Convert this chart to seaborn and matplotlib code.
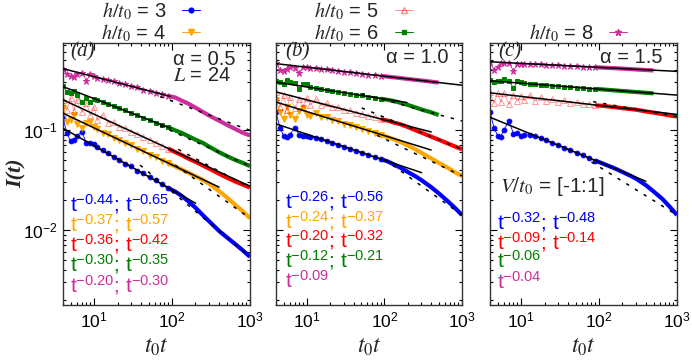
import matplotlib
matplotlib.use("Agg")
import matplotlib.pyplot as plt
from matplotlib.lines import Line2D
from matplotlib.ticker import LogLocator, NullFormatter
import seaborn as sns

sns.set_theme(style="ticks")
plt.rcParams["font.family"] = ["Liberation Sans", "DejaVu Sans"]
plt.rcParams["mathtext.fontset"] = "stix"

# time grid t0*t shared by all curves
T = [4, 4.5, 5, 5.5, 6, 7, 8, 9, 10, 11, 13, 15, 18, 21, 25, 30, 36, 43, 52, 62, 75, 90,
     110, 130, 160, 200, 250, 300, 400, 500, 650, 800, 1000]

# panel (a), alpha = 0.5
blue_a = [0.131, 0.093, 0.077, 0.079, 0.088, 0.095, 0.074, 0.074, 0.072,
          0.068, 0.0625, 0.0585, 0.054, 0.0505, 0.0462, 0.0432, 0.0393, 0.0368, 0.0335, 0.0313, 0.0285, 0.0262,
          0.0242, 0.0222, 0.0195, 0.0167, 0.0140, 0.0122, 0.0098, 0.0085, 0.0072, 0.0063, 0.0054]
orange_a = [0.165, 0.121, 0.125, 0.14, 0.115, 0.105, 0.118, 0.12, 0.108,
            0.102, 0.094, 0.091, 0.0835, 0.080, 0.0742, 0.0700, 0.0648, 0.0613, 0.0566, 0.0536, 0.0494, 0.0466,
            0.0432, 0.0406, 0.0375, 0.0345, 0.0315, 0.0290, 0.0245, 0.0213, 0.0178, 0.0155, 0.0131]
red_a = [0.20, 0.16, 0.21, 0.155, 0.20, 0.15, 0.185, 0.14, 0.17,
         0.125, 0.142, 0.118, 0.120, 0.106, 0.104, 0.0955, 0.0915, 0.0845, 0.0798, 0.0744, 0.0698, 0.0650,
         0.0600, 0.0565, 0.0520, 0.0480, 0.0440, 0.0410, 0.0365, 0.0335, 0.0305, 0.0285, 0.0265]
green_a = [0.275, 0.24, 0.235, 0.245, 0.225, 0.19, 0.21, 0.19, 0.205,
           0.198, 0.192, 0.180, 0.174, 0.164, 0.157, 0.147, 0.141, 0.132, 0.127, 0.118, 0.113, 0.106,
           0.099, 0.094, 0.087, 0.080, 0.074, 0.068, 0.060, 0.055, 0.050, 0.047, 0.0435]
magenta_a = [0.405, 0.36, 0.345, 0.34, 0.36, 0.375, 0.31, 0.36, 0.35,
             0.333, 0.326, 0.313, 0.305, 0.292, 0.286, 0.272, 0.266, 0.253, 0.246, 0.236, 0.229, 0.219,
             0.211, 0.198, 0.184, 0.167, 0.151, 0.139, 0.124, 0.113, 0.102, 0.094, 0.088]

# panel (b), alpha = 1.0
blue_b = [0.152, 0.105, 0.088, 0.086, 0.09, 0.105, 0.089, 0.088, 0.087,
          0.085, 0.0835, 0.0805, 0.0775, 0.0742, 0.0712, 0.0680, 0.0648, 0.0620, 0.0590, 0.0562, 0.0535, 0.0510,
          0.0485, 0.0455, 0.042, 0.038, 0.0345, 0.0315, 0.0268, 0.0233, 0.0195, 0.0168, 0.0141]
orange_b = [0.20, 0.15, 0.128, 0.17, 0.14, 0.13, 0.155, 0.165, 0.14,
            0.138, 0.147, 0.134, 0.134, 0.125, 0.123, 0.116, 0.112, 0.107, 0.1025, 0.098, 0.093, 0.089,
            0.085, 0.081, 0.076, 0.070, 0.064, 0.059, 0.052, 0.047, 0.042, 0.038, 0.0347]
red_b = [0.24, 0.17, 0.225, 0.16, 0.215, 0.165, 0.205, 0.17, 0.21,
         0.178, 0.202, 0.177, 0.186, 0.168, 0.170, 0.157, 0.157, 0.147, 0.145, 0.138, 0.134, 0.128,
         0.124, 0.119, 0.114, 0.107, 0.0995, 0.094, 0.0857, 0.080, 0.0734, 0.0687, 0.064]
green_b = [0.31, 0.30, 0.29, 0.315, 0.30, 0.295, 0.255, 0.29, 0.285,
           0.268, 0.262, 0.254, 0.252, 0.245, 0.242, 0.235, 0.231, 0.225, 0.221, 0.215, 0.210, 0.205,
           0.200, 0.195, 0.187, 0.178, 0.168, 0.160, 0.150, 0.141]
magenta_b = [0.47, 0.40, 0.385, 0.41, 0.43, 0.42, 0.37, 0.43, 0.425,
             0.418, 0.415, 0.406, 0.403, 0.395, 0.391, 0.383, 0.379, 0.371, 0.366, 0.358, 0.354, 0.347,
             0.341, 0.336, 0.330, 0.323, 0.317, 0.312, 0.304, 0.297]

# panel (c), alpha = 1.5
blue_c = [0.152, 0.105, 0.088, 0.086, 0.10, 0.122, 0.092, 0.093, 0.087,
          0.090, 0.089, 0.0865, 0.0822, 0.0785, 0.0745, 0.0703, 0.0664, 0.0625, 0.0590, 0.0556, 0.0525, 0.0494,
          0.0464, 0.0440, 0.0412, 0.0380, 0.0350, 0.0325, 0.0280, 0.0243, 0.0204, 0.0172, 0.0141]
red_c = [0.24, 0.185, 0.235, 0.19, 0.235, 0.18, 0.225, 0.195, 0.22,
         0.198, 0.222, 0.196, 0.213, 0.196, 0.204, 0.192, 0.198, 0.187, 0.189, 0.181, 0.182, 0.176,
         0.1744, 0.1718, 0.1687, 0.1652, 0.1619, 0.1593, 0.153, 0.149, 0.144, 0.140, 0.136]
green_c = [0.315, 0.30, 0.31, 0.305, 0.32, 0.31, 0.262, 0.305, 0.30,
           0.296, 0.287, 0.289, 0.282, 0.283, 0.276, 0.276, 0.270, 0.270, 0.264, 0.263, 0.259, 0.257,
           0.2542, 0.2516, 0.2484, 0.2451, 0.2419, 0.2392, 0.2352, 0.2320]
magenta_c = [0.48, 0.40, 0.425, 0.465, 0.47, 0.47, 0.39, 0.46, 0.455,
             0.458, 0.455, 0.452, 0.451, 0.447, 0.446, 0.441, 0.440, 0.436, 0.434, 0.429, 0.427, 0.423,
             0.420, 0.417, 0.414, 0.410, 0.406, 0.402, 0.397, 0.393]

# power-law fits: (t_start, t_end, I_start, I_end)
solid_a = [(4, 96, 0.41, 0.216), (4, 96, 0.271, 0.104), (4, 1000, 0.20, 0.0274),
           (4, 401, 0.147, 0.0268), (4, 201, 0.104, 0.0185)]
dashed_a = [(71, 1000, 0.215, 0.099), (70, 1000, 0.11, 0.0435), (120, 1000, 0.064, 0.0265),
            (110, 1000, 0.0445, 0.0131), (39, 1000, 0.0445, 0.0054)]
solid_b = [(4, 1000, 0.46, 0.28), (4, 195, 0.30, 0.188), (4, 401, 0.24, 0.0955),
           (4, 400, 0.19, 0.063), (4, 302, 0.115, 0.0374)]
dashed_b = [(51, 1000, 0.2297, 0.123), (51, 1000, 0.166, 0.064), (80, 1000, 0.0885, 0.0347),
            (100, 1000, 0.0509, 0.0141)]
solid_c = [(4, 1000, 0.48, 0.385), (4, 1000, 0.31, 0.223), (4, 1000, 0.235, 0.143),
           (4, 398, 0.134, 0.0307)]
dashed_c = [(84, 1000, 0.192, 0.136), (80, 1000, 0.0478, 0.0141)]

# fitted exponents written in each panel
expo_a = [("-0.44", "-0.65", 3), ("-0.37", "-0.57", 4), ("-0.36", "-0.42", 5),
          ("-0.30", "-0.35", 6), ("-0.20", "-0.30", 8)]
expo_b = [("-0.26", "-0.56", 3), ("-0.24", "-0.37", 4), ("-0.20", "-0.32", 5),
          ("-0.12", "-0.21", 6), ("-0.09", None, 8)]
expo_c = [("-0.32", "-0.48", 3), ("-0.09", "-0.14", 5), ("-0.06", None, 6), ("-0.04", None, 8)]

COLORS = {3: "#0000ff", 4: "#ffa500", 5: "#ff0000", 6: "#008000", 8: "#cc2f9c"}
MARKERS = {3: ("o", 3.4), 4: ("v", 4.0), 5: ("^", 3.8), 6: ("s", 3.2), 8: ("*", 4.6)}

fig = plt.figure(figsize=(6.92, 3.6), dpi=100)
axes = [fig.add_axes([63 / 692, 0.1528, 187 / 692, 0.7278]),
        fig.add_axes([276 / 692, 0.1528, 186 / 692, 0.7278]),
        fig.add_axes([490 / 692, 0.1528, 187 / 692, 0.7278])]


def draw_series(ax, y, h):
    t = T[:len(y)]
    k = T.index(110)
    col = COLORS[h]
    m, ms = MARKERS[h]
    light = h == 5
    sns.lineplot(x=t[:k], y=y[:k], ax=ax, color=col, lw=0.6, estimator=None, sort=False,
                 marker=m, markersize=ms, markeredgecolor=col, markeredgewidth=0.7,
                 markerfacecolor="none" if light else col, alpha=0.4 if light else 1.0)
    sns.lineplot(x=t[k - 1:], y=y[k - 1:], ax=ax, color=col, lw=3.0, estimator=None, sort=False,
                 solid_capstyle="butt")


def draw_fits(ax, fits, style):
    for t0, t1, y0, y1 in fits:
        if style == "solid":
            ax.plot([t0, t1], [y0, y1], color="black", lw=1.1, zorder=5)
        else:
            ax.plot([t0, t1], [y0, y1], color="black", lw=1.1, ls=(0, (2.2, 4.5)), zorder=5)


panels = [
    ([(blue_a, 3), (orange_a, 4), (red_a, 5), (green_a, 6), (magenta_a, 8)], solid_a, dashed_a, expo_a),
    ([(blue_b, 3), (orange_b, 4), (red_b, 5), (green_b, 6), (magenta_b, 8)], solid_b, dashed_b, expo_b),
    ([(blue_c, 3), (red_c, 5), (green_c, 6), (magenta_c, 8)], solid_c, dashed_c, expo_c),
]
row_y = [[0.385, 0.309, 0.233, 0.156, 0.076],
         [0.395, 0.319, 0.248, 0.172, 0.092],
         [0.317, 0.240, 0.168, 0.088]]
row_x = [0.037, 0.048, 0.037]

for i, (ax, (series, solid, dashed, expo)) in enumerate(zip(axes, panels)):
    ax.set(xscale="log", yscale="log")
    for y, h in series:
        draw_series(ax, y, h)
    draw_fits(ax, solid, "solid")
    draw_fits(ax, dashed, "dashed")
    ax.set_xlim(4, 1000)
    ax.set_ylim(0.00178, 0.74)
    ax.xaxis.set_major_locator(LogLocator(base=10))
    ax.xaxis.set_minor_locator(LogLocator(base=10, subs=range(2, 10)))
    ax.xaxis.set_minor_formatter(NullFormatter())
    ax.yaxis.set_minor_locator(LogLocator(base=10, subs=range(2, 10)))
    ax.yaxis.set_minor_formatter(NullFormatter())
    ax.tick_params(which="both", direction="in", top=True, right=True, width=0.8,
                   colors="black", labelsize=12.5)
    ax.tick_params(which="major", length=5, pad=4)
    ax.tick_params(which="minor", length=2.5)
    for sp in ax.spines.values():
        sp.set_linewidth(1.0)
        sp.set_color("#333333")
    ax.set_xlabel("")
    ax.set_ylabel("")
    if i > 0:
        ax.tick_params(axis="y", labelleft=False)
    ax.text(0.5, -0.16, r"$t_0t$", transform=ax.transAxes, ha="center", va="center", fontsize=17)
    ax.text(row_x[i] + (0.006 if i == 2 else 0), 0.965, "(" + "abc"[i] + ")", transform=ax.transAxes,
            ha="left", va="center", fontsize=15, family="Liberation Serif", style="italic")
    for (e1, e2, h), yy in zip(expo, row_y[i]):
        s = r"$\mathregular{t^{" + e1 + "}}$"
        if e2 is not None:
            s += r"; $\mathregular{t^{" + e2 + "}}$"
        ax.text(row_x[i], yy, s, transform=ax.transAxes, ha="left", va="center",
                fontsize=15, color=COLORS[h])

axes[0].text(0.925, 0.937, "α = 0.5", transform=axes[0].transAxes, ha="right", va="center", fontsize=14.5)
axes[0].text(0.9, 0.876, r"$L$ = 24", transform=axes[0].transAxes, ha="right", va="center", fontsize=14.5)
axes[1].text(0.925, 0.945, "α = 1.0", transform=axes[1].transAxes, ha="right", va="center", fontsize=14.5)
axes[2].text(0.92, 0.945, "α = 1.5", transform=axes[2].transAxes, ha="right", va="center", fontsize=14.5)
axes[2].text(0.053, 0.454, r"$V/t_0$ = [-1:1]", transform=axes[2].transAxes, ha="left", va="center",
             fontsize=15)

fig.text(0.024, 0.52, "I(t)", rotation=90, ha="center", va="center", fontsize=16,
         family="Liberation Serif", style="italic", weight="bold")


def handle(h):
    m, ms = MARKERS[h]
    light = h == 5
    return Line2D([], [], color=COLORS[h], lw=0.7, marker=m, markersize=ms,
                  markerfacecolor="none" if light else COLORS[h], alpha=0.45 if light else 1.0,
                  label=r"$h/t_0$ = %d" % h)


for ax, hs in zip(axes, [[3, 4], [5, 6], [8]]):
    ax.legend(handles=[handle(h) for h in hs], loc="lower center", bbox_to_anchor=(0.47, 0.99),
              frameon=False, fontsize=14.5, markerfirst=False, handlelength=0.9, handletextpad=0.8,
              labelspacing=0.0, borderaxespad=0.0, borderpad=0.1)

fig.savefig("out.png", dpi=100)
